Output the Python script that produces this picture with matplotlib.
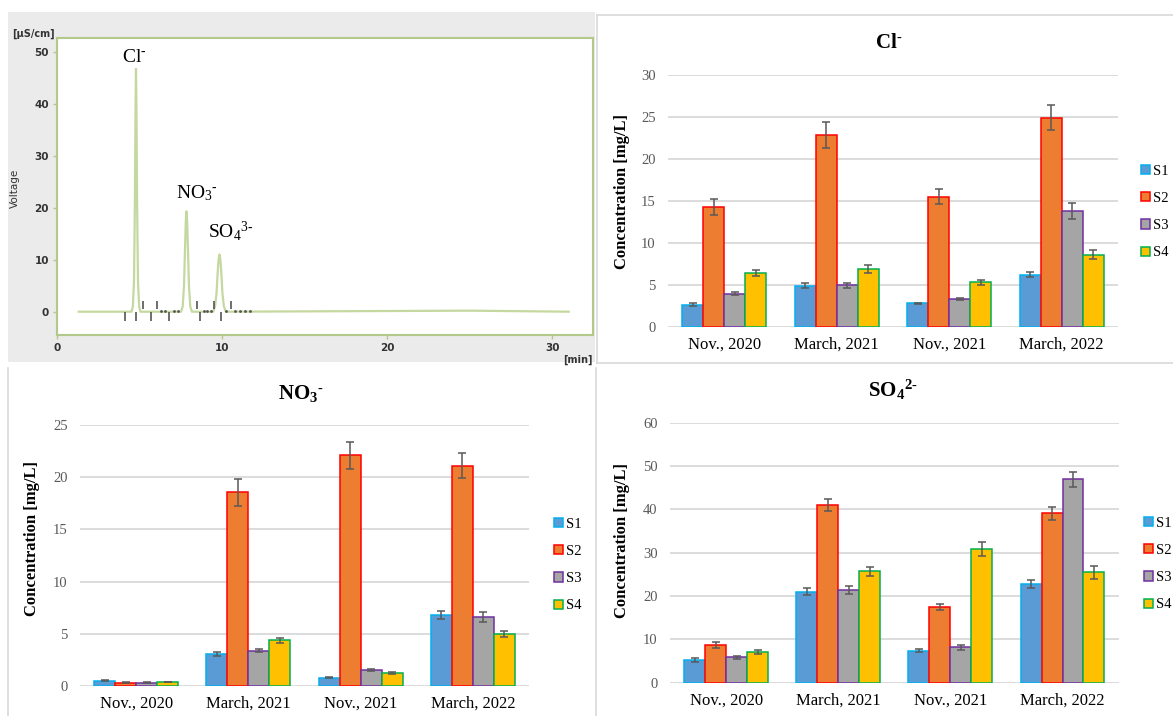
import matplotlib
matplotlib.use("Agg")
import matplotlib.pyplot as plt
from matplotlib.patches import Rectangle
from matplotlib.lines import Line2D
import numpy as np

plt.rcParams['font.family'] = ['Liberation Serif', 'DejaVu Serif']
plt.rcParams['mathtext.fontset'] = 'custom'
plt.rcParams['mathtext.rm'] = 'Liberation Serif'
plt.rcParams['mathtext.it'] = 'Liberation Serif:italic'
plt.rcParams['mathtext.bf'] = 'Liberation Serif:bold'

# ---- chromatogram ----
trace_t = [1.3, 4.50, 4.58, 4.65, 4.70, 4.74, 4.77, 4.80, 4.84, 4.89, 4.96, 5.04,
           7.50, 7.60, 7.68, 7.74, 7.79, 7.83, 7.87, 7.92, 7.98, 8.06, 8.16,
           9.45, 9.56, 9.65, 9.72, 9.78, 9.83, 9.88, 9.94, 10.01, 10.10, 10.22,
           25.0, 31.0]
trace_y = [0, 0, 1, 6, 20, 38, 46.7, 38, 20, 6, 1, 0,
           0, 1, 5, 12, 17.5, 19.3, 17.5, 12, 5, 1, 0,
           0, 1, 3.5, 7.5, 10.2, 11.0, 10.2, 7.5, 3.5, 1, 0,
           0.2, 0]
marks_down = [4.12, 4.79, 5.66, 6.77, 8.66, 9.92]
marks_up = [5.19, 6.06, 8.49, 9.48, 10.55]
dots_t = [6.3, 6.5, 7.1, 7.3, 8.9, 9.1, 9.3, 10.2, 10.8, 11.1, 11.4, 11.7]
peak_names = [r'Cl$^{\text{-}}$', r'NO$_3$$^{\text{-}}$', r'SO$_4$$^{\text{3-}}$']
peak_label_x = [4.65, 8.44, 10.5]
peak_label_y = [48.8, 22.8, 15.6]

# ---- bar charts ----
dates = ['Nov., 2020', 'March, 2021', 'Nov., 2021', 'March, 2022']
sites = ['S1', 'S2', 'S3', 'S4']

cl_vals = {'S1': [2.63, 4.86, 2.80, 6.20],
           'S2': [14.26, 22.85, 15.50, 24.90],
           'S3': [3.94, 4.94, 3.35, 13.80],
           'S4': [6.40, 6.85, 5.30, 8.60]}
cl_err = {'S1': [0.15, 0.30, 0.07, 0.30],
          'S2': [1.00, 1.60, 0.90, 1.50],
          'S3': [0.15, 0.30, 0.12, 1.00],
          'S4': [0.30, 0.45, 0.30, 0.55]}

no3_vals = {'S1': [0.50, 3.10, 0.80, 6.80],
            'S2': [0.32, 18.55, 22.10, 21.10],
            'S3': [0.32, 3.38, 1.53, 6.60],
            'S4': [0.38, 4.37, 1.25, 5.00]}
no3_err = {'S1': [0.05, 0.20, 0.05, 0.35],
           'S2': [0.03, 1.30, 1.30, 1.20],
           'S3': [0.03, 0.15, 0.08, 0.45],
           'S4': [0.04, 0.25, 0.10, 0.30]}

so4_vals = {'S1': [5.20, 21.00, 7.40, 22.80],
            'S2': [8.70, 41.00, 17.50, 39.10],
            'S3': [5.85, 21.40, 8.15, 46.90],
            'S4': [7.15, 25.70, 30.90, 25.50]}
so4_err = {'S1': [0.40, 0.80, 0.35, 1.00],
           'S2': [0.60, 1.30, 0.70, 1.50],
           'S3': [0.35, 0.90, 0.50, 1.80],
           'S4': [0.50, 1.10, 1.60, 1.50]}

face = {'S1': '#5B9BD5', 'S2': '#ED7D31', 'S3': '#A5A5A5', 'S4': '#FFC000'}
edge = {'S1': '#00B0F0', 'S2': '#FF0000', 'S3': '#7030A0', 'S4': '#00B050'}

W, H = 1173, 716
fig = plt.figure(figsize=(W / 100, H / 100), dpi=100)


def box(x0, y0, x1, y1):
    # pixel box (top-left origin) -> figure fraction rect
    return [x0 / W, 1 - y1 / H, (x1 - x0) / W, (y1 - y0) / H]


def fx(x):
    return x / W


def fy(y):
    return 1 - y / H


# grey background of the chromatogram screenshot
fig.patches.append(Rectangle((fx(8), fy(362)), 587 / W, 350 / H, transform=fig.transFigure,
                             facecolor='#ebebeb', edgecolor='none', zorder=-5))
# panel borders
for (xa, ya, xb, yb) in [(597, 15, 597, 363), (597, 15, W, 15), (597, 363, W, 363),
                         (8, 368, 8, H), (596, 368, 596, H)]:
    fig.add_artist(Line2D([fx(xa), fx(xb)], [fy(ya), fy(yb)], color='#d9d9d9', lw=1.2))

# ---------- chromatogram ----------
green = '#b3c98a'
axc = fig.add_axes(box(57.3, 37.7, 593, 335))
axc.set_zorder(2)
axc.plot(trace_t, trace_y, color='#c5d89f', lw=1.6, zorder=3)
axc.vlines(marks_down, 0, -1.8, color='#555555', lw=1.2, zorder=4)
axc.vlines(marks_up, 0.6, 2.1, color='#555555', lw=1.2, zorder=4)
axc.plot(dots_t, [0.1] * len(dots_t), ls='none', marker='.', ms=2, color='#555555', zorder=4)
for name, px, py in zip(peak_names, peak_label_x, peak_label_y):
    axc.text(px, py, name, fontsize=14, ha='center', va='center', color='black')
axc.set_xlim(0, 32.47)
axc.set_ylim(-4.48, 52.7)
axc.set_xticks([0, 10, 20, 30])
axc.set_yticks([0, 10, 20, 30, 40, 50])
for sp in axc.spines.values():
    sp.set_color(green)
    sp.set_linewidth(1.5)
axc.tick_params(colors=green, labelcolor='#333333', length=3, width=1, labelsize=7.5, pad=3)
for lab in axc.get_xticklabels() + axc.get_yticklabels():
    lab.set_fontfamily('DejaVu Sans')
    lab.set_fontweight('bold')
fig.text(fx(12), fy(34), '[µS/cm]', family='DejaVu Sans', fontweight='bold', fontsize=7,
         color='#333333', ha='left', va='center')
fig.text(fx(593), fy(360), '[min]', family='DejaVu Sans', fontweight='bold', fontsize=7,
         color='#333333', ha='right', va='center')
fig.text(fx(15), fy(188), 'Voltage', family='DejaVu Sans', fontsize=7.5, color='#333333',
         rotation=90, ha='center', va='center')


# ---------- bar charts ----------
def bar_panel(rect, vals, errs, ymax, step, title, title_xy, ylab_xy, leg_xy):
    ax = fig.add_axes(rect)
    x = np.arange(len(dates))
    bw = 0.187
    for i, s in enumerate(sites):
        ax.bar(x + (i - 1.5) * bw, vals[s], bw, yerr=errs[s], color=face[s],
               edgecolor=edge[s], linewidth=1.1, label=s, zorder=2,
               error_kw=dict(ecolor='#595959', elinewidth=1.1, capsize=3, capthick=1.1))
    ax.set_xlim(-0.5, len(dates) - 0.5)
    ax.set_ylim(0, ymax)
    ax.set_yticks(np.arange(0, ymax + 0.1, step))
    ax.set_xticks(x)
    ax.set_xticklabels(dates, fontsize=12)
    ax.grid(axis='y', color='#d9d9d9', lw=1.3)
    ax.set_axisbelow(True)
    for sp in ax.spines.values():
        sp.set_visible(False)
    ax.tick_params(axis='y', length=0, labelsize=10.5, labelcolor='#595959', pad=9)
    ax.tick_params(axis='x', length=0, pad=7)
    fig.text(fx(title_xy[0]), fy(title_xy[1]), title, fontsize=15, ha='center', va='center')
    fig.text(fx(ylab_xy[0]), fy(ylab_xy[1]), 'Concentration [mg/L]', fontsize=12,
             fontweight='bold', rotation=90, ha='center', va='center')
    ax.legend(loc='center left', bbox_to_anchor=(fx(leg_xy[0]), fy(leg_xy[1])),
              bbox_transform=fig.transFigure, frameon=False, fontsize=10.5,
              handlelength=0.6, handleheight=0.6, handletextpad=0.25,
              labelspacing=0.98, borderpad=0, borderaxespad=0)
    return ax


bar_panel(box(668, 75, 1118, 326.7), cl_vals, cl_err, 30, 5,
          r'$\mathbf{Cl}^{\mathbf{\text{-}}}$', (889, 43), (621.6, 191.7), (1141, 212))
bar_panel(box(80, 425, 529, 686), no3_vals, no3_err, 25, 5,
          r'$\mathbf{NO_3}^{\mathbf{\text{-}}}$', (301, 393), (32, 538), (554, 565))
bar_panel(box(670, 422.7, 1118.6, 682.7), so4_vals, so4_err, 60, 10,
          r'$\mathbf{SO_4}^{\mathbf{2\text{-}}}$', (893, 390), (621.6, 540), (1144, 564))

fig.savefig('out.png', dpi=100, facecolor='white')
